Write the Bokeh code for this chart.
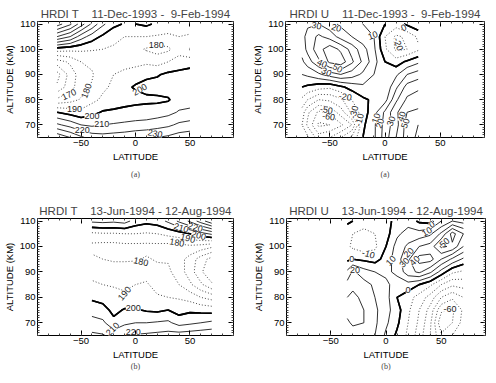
import numpy as np
from bokeh.plotting import figure
from bokeh.layouts import column, row
from bokeh.models import LinearAxis, FixedTicker, Title, ColumnDataSource, Range1d
from bokeh.core.properties import value
from bokeh.embed import file_html
from bokeh.resources import INLINE

SANS = "Liberation Sans"
SERIF = "Liberation Serif"
NB = "\u00a0"

# Altitude levels (km) shared by all zonal-mean cross sections
ALT = [65, 70, 75, 80, 85, 90, 95, 100, 105, 110]

# ---- HRDI temperature (K), 11-Dec-1993 - 9-Feb-1994; one row per latitude, values at ALT
T_DJF_LAT = [-72, -60, -50, -40, -30, -20, -10, 0, 10, 20, 30, 40, 50]
T_DJF = [
    [248, 222, 200, 172, 152, 146, 165, 195, 240, 275],
    [240, 216, 196, 176, 166, 164, 172, 193, 230, 262],
    [232, 210, 193, 181, 176, 175, 180, 192, 215, 245],
    [226, 208, 197, 187, 181, 179, 182, 191, 205, 228],
    [224, 210, 201, 192, 188, 186, 187, 190, 198, 212],
    [225, 211, 202, 194, 192, 190, 188, 189, 192, 203],
    [226, 212, 203, 196, 198, 192, 187, 186, 190, 199],
    [228, 213, 204, 197, 201, 196, 186, 183, 190, 200],
    [229, 214, 204, 198, 203, 198, 188, 179, 190, 202],
    [230, 216, 205, 198, 204, 199, 186, 176, 189, 198],
    [232, 218, 207, 199, 205, 202, 190, 178, 188, 196],
    [235, 222, 211, 205, 206, 203, 194, 186, 190, 195],
    [236, 224, 212, 206, 205, 204, 196, 179, 189, 194],
]
# contour labels: latitude, altitude, level, angle (deg)
T_DJF_LAB_LAT = [19, -61, -45, -56, -40, 4, -31, -49, 18]
T_DJF_LAB_ALT = [101.5, 82, 83.5, 76.4, 73.4, 84, 70.3, 67.8, 66.5]
T_DJF_LAB_LEV = [180, 170, 180, 190, 200, 200, 210, 220, 230]
T_DJF_LAB_ANG = [0, 25, 70, 0, 0, 30, 0, 0, -10]

# ---- HRDI temperature (K), 13-Jun-1994 - 12-Aug-1994
T_JJA_LAT = [-40, -30, -20, -10, 0, 10, 20, 30, 40, 50, 60, 70]
T_JJA = [
    [222, 214, 206, 198, 192, 186, 182, 177, 188, 212],
    [221, 212, 204, 196, 190, 185, 180, 176, 189, 213],
    [216, 203, 197, 194, 189, 184, 179, 176, 189, 212],
    [220, 208, 201, 192, 188, 184, 179, 177, 190, 214],
    [221, 210, 201, 194, 190, 186, 179, 177, 190, 206],
    [222, 210, 199, 193, 191, 187, 181, 177, 189, 203],
    [223, 211, 198, 191, 187, 183, 179, 177, 190, 205],
    [224, 212, 200, 190, 185, 182, 179, 176, 193, 212],
    [225, 206, 196, 189, 180, 175, 174, 176, 196, 222],
    [226, 208, 198, 186, 172, 165, 166, 178, 200, 232],
    [227, 210, 197, 180, 162, 152, 155, 176, 206, 245],
    [228, 212, 196, 176, 152, 140, 146, 172, 212, 258],
]
T_JJA_LAB_LAT = [38, 5, -10, -2, -21, -2, 42, 55, 48, 58]
T_JJA_LAB_ALT = [101.5, 94, 81.5, 75.8, 67.5, 66.3, 107.3, 107.5, 103.2, 104.3]
T_JJA_LAB_LEV = [180, 180, 190, 200, 210, 220, 210, 220, 190, 200]
T_JJA_LAB_ANG = [-10, -12, 50, 0, 45, 0, -15, -15, -15, -15]

# ---- HRDI zonal wind (m/s), 11-Dec-1993 - 9-Feb-1994
U_DJF_LAT = [-75, -70, -60, -50, -40, -30, -20, -10, 0, 10, 20, 30]
U_DJF = [
    [-20, -30, -25, -12, 0, 10, 18, 24, 26, 24],
    [-28, -42, -38, -20, -2, 12, 25, 33, 34, 28],
    [-45, -62, -52, -30, -6, 18, 38, 46, 42, 30],
    [-40, -60, -48, -28, -8, 25, 52, 56, 36, 24],
    [-30, -52, -35, -22, -2, 30, 56, 48, 26, 18],
    [-18, -40, -18, -10, 4, 25, 42, 36, 20, 14],
    [0, -2, -5, -2, 8, 18, 28, 24, 14, 10],
    [8, 8, 6, 2, 5, 10, 14, 12, 10, 6],
    [25, 24, 22, 6, 2, 4, 0, -8, -10, 0],
    [40, 36, 38, 28, 18, 8, -5, -22, -22, -5],
    [55, 55, 50, 42, 34, 20, 2, -20, -18, 2],
    [62, 60, 52, 45, 38, 25, 8, -12, -8, 8],
]
U_DJF_LAB_LAT = [-62, -44, -11, 17, 12, -57, -53, -43, -36, -53, -51, -8, -4.5, 5.5, 15, 18.5, -28, -23]
U_DJF_LAB_ALT = [109.3, 108.5, 105.5, 108.5, 102, 94.3, 91, 92.5, 81.1, 75.9, 73.3, 72.6, 70.6, 71.5, 73.3, 70.6, 75, 72]
U_DJF_LAB_LEV = [30, 20, 10, 0, -20, 40, 30, 50, -20, -50, -60, 10, 20, 30, 40, 50, -30, -10]
U_DJF_LAB_ANG = [-10, -15, 20, 25, -70, -25, -25, -30, -10, -10, -10, 70, 70, 70, 70, 70, 75, 75]

# ---- HRDI zonal wind (m/s), 13-Jun-1994 - 12-Aug-1994
U_JJA_LAT = [-35, -30, -20, -10, 0, 10, 20, 30, 40, 50, 60, 70]
U_JJA = [
    [22, 28, 34, 30, 24, 12, -2, -8, -6, 2],
    [24, 32, 36, 32, 28, 22, 0, -12, -10, 0],
    [26, 30, 30, 28, 24, 14, -2, -16, -14, -4],
    [20, 22, 22, 20, 18, 10, -4, -12, -10, -6],
    [8, 12, 14, 14, 12, 8, 4, 0, -4, -2],
    [-2, 2, 4, 0, 6, 12, 16, 14, 8, 2],
    [-12, -10, -8, -6, 6, 26, 28, 22, 14, 6],
    [-25, -22, -20, -14, 0, 32, 44, 30, 14, -2],
    [-40, -38, -34, -24, -8, 22, 44, 34, 18, -4],
    [-58, -68, -58, -40, -20, 6, 30, 52, 32, 10],
    [-50, -60, -62, -48, -28, -8, 18, 48, 54, 20],
    [-40, -46, -48, -40, -26, -12, 8, 30, 40, 16],
]
U_JJA_LAB_LAT = [41.5, 37, 53, -16, -31, -28, 4.5, 20.6, 16.6, 26, 20, 57.8]
U_JJA_LAB_ALT = [108.7, 105.8, 101.5, 97, 95, 90.6, 94.4, 97.6, 93.7, 94.4, 83, 75.5]
U_JJA_LAB_LEV = [0, 10, 50, -10, 0, 20, 10, 20, 30, 40, 0, -60]
U_JJA_LAB_ANG = [30, 30, 40, -15, 0, 0, 45, 45, 45, 45, 0, 0]

T_LEVELS = list(range(130, 301, 10))
U_LEVELS = list(range(-100, 101, 10))

LAT_TICKS = [-50, 0, 50]
LAT_MINOR = list(range(-90, 91, 10))
ALT_TICKS = [70, 80, 90, 100, 110]
ALT_MINOR = list(range(65, 112, 1))


def style_axis(ax, ticker, show_labels):
    ax.ticker = ticker
    ax.axis_line_color = None
    ax.major_tick_in = 5
    ax.major_tick_out = 0
    ax.minor_tick_in = 2
    ax.minor_tick_out = 0
    ax.major_tick_line_color = "black"
    ax.minor_tick_line_color = "#444444"
    ax.major_label_text_font = SANS
    ax.axis_label_text_font = SANS
    ax.axis_label_text_font_style = "normal"
    ax.axis_label_text_color = "black"
    if show_labels:
        ax.major_label_text_color = "black"
        ax.major_label_text_font_size = "9.5px"
        ax.axis_label_text_font_size = "9.5px"
        ax.major_label_standoff = 2
        ax.axis_label_standoff = 2
    else:
        # tick marks only on the opposite frame edges
        ax.major_label_text_color = None
        ax.major_label_text_font_size = "0px"
        ax.major_label_standoff = 0


def panel(title, lat, field, levels, split, lab, caption, geom, cap_standoff):
    w, h, bl, br, bt, bb = geom
    p = figure(width=w, height=h, x_range=Range1d(-90, 90), y_range=Range1d(65, 111),
               min_border_left=bl, min_border_right=br, min_border_top=bt,
               min_border_bottom=bb, output_backend="svg", toolbar_location=None)
    p.outline_line_color = "black"
    p.outline_line_width = 1
    p.grid.visible = False
    p.background_fill_color = "white"
    p.border_fill_color = "white"

    x = np.array(lat, dtype=float)
    y = np.array(ALT, dtype=float)
    z = np.array(field, dtype=float).T

    low = [v for v in levels if v < split]
    high = [v for v in levels if v > split]
    p.contour(x, y, z, levels=low, line_color="#3a3a3a", line_width=0.9, line_dash="1 2")
    p.contour(x, y, z, levels=high, line_color="#1a1a1a", line_width=0.9)
    p.contour(x, y, z, levels=[split - 1e-6, split], line_color="black", line_width=1.6)

    llat, lalt, llev, lang = lab
    src = ColumnDataSource(dict(
        x=llat, y=lalt, text=[str(v) for v in llev],
        angle=[np.deg2rad(a) for a in lang]))
    p.text(x="x", y="y", text="text", angle="angle", source=src,
           text_font=value(SANS), text_font_size="9px", text_color="#222222",
           text_align="center", text_baseline="middle",
           background_fill_color="white", padding=0)

    style_axis(p.xaxis[0], FixedTicker(ticks=LAT_TICKS, minor_ticks=LAT_MINOR), True)
    style_axis(p.yaxis[0], FixedTicker(ticks=ALT_TICKS, minor_ticks=ALT_MINOR), True)
    p.xaxis.axis_label = "LATITUDE"
    p.yaxis.axis_label = "ALTITUDE (KM)"

    top = LinearAxis()
    style_axis(top, FixedTicker(ticks=LAT_TICKS, minor_ticks=LAT_MINOR), False)
    p.add_layout(top, "above")
    right = LinearAxis()
    style_axis(right, FixedTicker(ticks=ALT_TICKS, minor_ticks=ALT_MINOR), False)
    p.add_layout(right, "right")

    p.title.text = title
    p.title.align = "center"
    p.title.text_font = SANS
    p.title.text_font_size = "11.5px"
    p.title.text_font_style = "normal"
    p.title.standoff = 3

    p.add_layout(Title(text=caption, align="center", text_font=SERIF, text_font_size="8px",
                       text_font_style="normal", standoff=cap_standoff), "below")
    return p


DJF = "11-Dec-1993 -" + NB * 2 + "9-Feb-1994"
JJA = "13-Jun-1994 - 12-Aug-1994"

p_a = panel("HRDI T" + NB * 4 + DJF, T_DJF_LAT, T_DJF, T_LEVELS, 200,
            (T_DJF_LAB_LAT, T_DJF_LAB_ALT, T_DJF_LAB_LEV, T_DJF_LAB_ANG), "(a)",
            (248, 190, 34, 15, 21, 52), 7)
p_c = panel("HRDI U" + NB * 4 + DJF, U_DJF_LAT, U_DJF, U_LEVELS, 0,
            (U_DJF_LAB_LAT, U_DJF_LAB_ALT, U_DJF_LAB_LEV, U_DJF_LAB_ANG), "(a)",
            (248, 190, 37, 12, 20, 53), 7)
p_b = panel("HRDI T" + NB * 4 + JJA, T_JJA_LAT, T_JJA, T_LEVELS, 200,
            (T_JJA_LAB_LAT, T_JJA_LAB_ALT, T_JJA_LAB_LEV, T_JJA_LAB_ANG), "(b)",
            (248, 193, 34, 15, 28, 48), -6)
p_d = panel("HRDI U" + NB * 4 + JJA, U_JJA_LAT, U_JJA, U_LEVELS, 0,
            (U_JJA_LAB_LAT, U_JJA_LAB_ALT, U_JJA_LAB_LEV, U_JJA_LAB_ANG), "(b)",
            (248, 193, 38, 11, 28, 48), -6)

layout = column(row(p_a, p_c), row(p_b, p_d))
open("out.html", "w").write(file_html(layout, INLINE))
